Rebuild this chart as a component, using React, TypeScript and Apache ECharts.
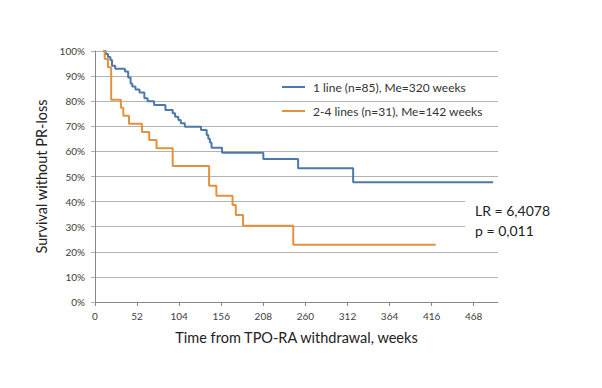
import React, { useEffect, useRef } from "react";
import * as echarts from "echarts";

const xTicks = [0, 52, 104, 156, 208, 260, 312, 364, 416, 468];
const yTicks = [0, 10, 20, 30, 40, 50, 60, 70, 80, 90, 100];

const seriesNames = ["1 line (n=85), Me=320 weeks", "2-4 lines (n=31), Me=142 weeks"];

const oneLineWeeks = [10, 13, 16, 19, 21, 25, 37, 41, 44, 46, 50, 55, 61, 65, 73, 87, 96, 99, 103, 106, 111, 131, 138, 140, 142, 144, 157, 208, 251, 319, 492];
const oneLineSurvival = [100, 98.8, 97.6, 96.4, 94.1, 92.9, 91.8, 89.4, 87.1, 85.9, 84.7, 83.5, 81.2, 80.0, 78.5, 76.5, 75.2, 73.8, 72.5, 71.2, 69.8, 68.5, 66.5, 65.0, 63.5, 61.5, 59.5, 57.0, 53.3, 47.7, 47.7];

const multiLineWeeks = [10, 12, 16, 20, 32, 35, 42, 58, 67, 76, 96, 141, 150, 170, 174, 183, 245, 421];
const multiLineSurvival = [100, 96.8, 93.5, 80.6, 77.4, 74.2, 71.0, 67.7, 64.5, 61.3, 54.2, 46.3, 42.3, 38.6, 34.7, 30.4, 22.8, 22.8];

const statLines = ["LR = 6,4078", "p = 0,011"];

const FONT = "Lato, 'Open Sans', sans-serif";

export default function App() {
  const ref = useRef<HTMLDivElement>(null);
  useEffect(() => {
    if (!ref.current) return;
    const chart = echarts.init(ref.current, null, { renderer: "svg" });
    const pairs = (xs: number[], ys: number[]) => xs.map((x, i) => [x, ys[i]]);
    chart.setOption({
      animation: false,
      backgroundColor: "#ffffff",
      textStyle: { fontFamily: FONT },
      grid: { left: 95, right: 104, top: 51, bottom: 86, containLabel: false },
      legend: {
        orient: "vertical",
        left: 277,
        top: 76,
        itemGap: 12,
        itemWidth: 23,
        itemHeight: 2,
        icon: "rect",
        textStyle: { fontFamily: FONT, fontSize: 12, color: "#333", padding: [0, 0, 0, 3] },
        data: seriesNames,
      },
      xAxis: {
        type: "value",
        min: 0,
        max: 498,
        interval: 52,
        name: "Time from TPO-RA withdrawal, weeks",
        nameLocation: "middle",
        nameGap: 28,
        nameTextStyle: { fontFamily: FONT, fontSize: 14.5, color: "#222" },
        axisLine: { show: true, onZero: false, lineStyle: { color: "#888", width: 1 } },
        axisTick: { show: true, length: 4, inside: false, lineStyle: { color: "#888" }, customValues: xTicks },
        axisLabel: { fontFamily: FONT, fontSize: 10, color: "#404040", margin: 9, customValues: xTicks },
        splitLine: { show: false },
      },
      yAxis: {
        type: "value",
        min: 0,
        max: 100,
        interval: 10,
        name: "Survival without PR-loss",
        nameLocation: "middle",
        nameGap: 42,
        nameTextStyle: { fontFamily: FONT, fontSize: 14.5, color: "#222" },
        axisLine: { show: true, lineStyle: { color: "#888", width: 1 } },
        axisTick: { show: true, length: 4, lineStyle: { color: "#b0b0b0" }, customValues: yTicks },
        axisLabel: { fontFamily: FONT, fontSize: 10, color: "#404040", margin: 10, formatter: "{value}%", customValues: yTicks },
        splitLine: { show: true, lineStyle: { color: "#b3b3b3", width: 1 } },
      },
      series: [
        {
          name: seriesNames[0],
          type: "line",
          step: "end",
          showSymbol: false,
          symbol: "none",
          lineStyle: { color: "#4C78AC", width: 2 },
          itemStyle: { color: "#4C78AC" },
          data: pairs(oneLineWeeks, oneLineSurvival),
          z: 3,
        },
        {
          name: seriesNames[1],
          type: "line",
          step: "end",
          showSymbol: false,
          symbol: "none",
          lineStyle: { color: "#E2913F", width: 2 },
          itemStyle: { color: "#E2913F" },
          data: pairs(multiLineWeeks, multiLineSurvival),
          z: 3,
        },
      ],
      graphic: [
        {
          type: "rect",
          left: 465,
          top: 190,
          shape: { width: 110, height: 48 },
          style: { fill: "#ffffff" },
          z: 10,
        },
        {
          type: "text",
          left: 475,
          top: 203,
          style: { text: statLines[0], font: `14px ${FONT}`, fill: "#222" },
          z: 11,
        },
        {
          type: "text",
          left: 475,
          top: 223,
          style: { text: statLines[1], font: `14px ${FONT}`, fill: "#222" },
          z: 11,
        },
      ],
    });
    return () => chart.dispose();
  }, []);
  return (
    <div
      ref={ref}
      style={{ position: "fixed", left: 0, top: 0, width: 602, height: 388, background: "#fff" }}
    />
  );
}
